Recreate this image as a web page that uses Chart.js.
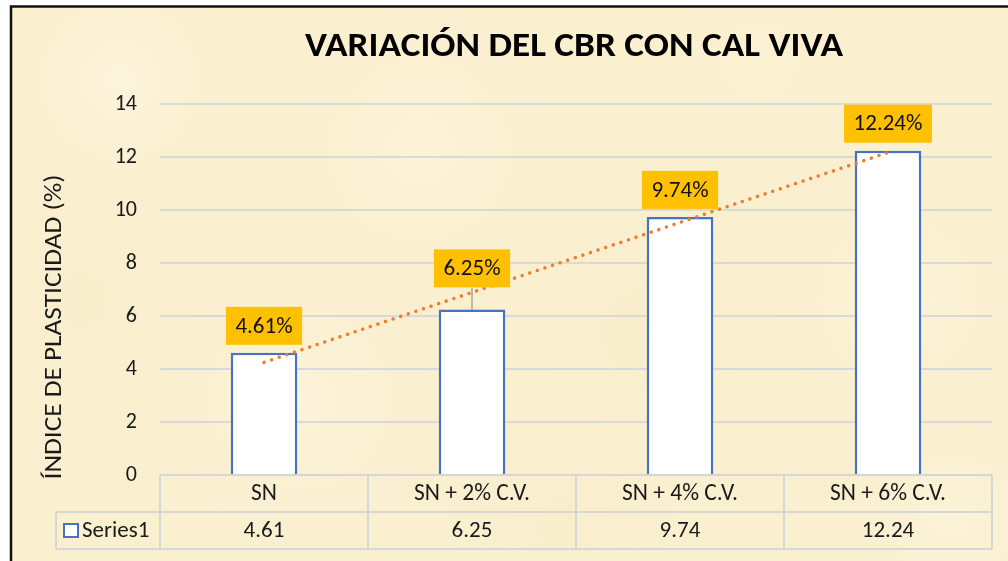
<!DOCTYPE html>
<html>
<head>
<meta charset="utf-8">
<script src="https://cdn.jsdelivr.net/npm/chart.js@4"></script>
<style>
  html, body { margin: 0; padding: 0; background: #ffffff; }
  canvas { display: block; }
</style>
</head>
<body>
<canvas id="c" width="1008" height="561"></canvas>
<script>
// ---- data ----
const categories = ['SN', 'SN + 2% C.V.', 'SN + 4% C.V.', 'SN + 6% C.V.'];
const values = [4.61, 6.25, 9.74, 12.24];
const valueLabels = ['4.61%', '6.25%', '9.74%', '12.24%'];
const tableValues = ['4.61', '6.25', '9.74', '12.24'];
const trendValues = [4.25, 6.89, 9.53, 12.17];
const seriesName = 'Series1';
const chartTitle = 'VARIACIÓN DEL CBR CON CAL VIVA';
const yAxisTitle = 'ÍNDICE DE PLASTICIDAD (%)';
const yMin = 0, yMax = 14, yStep = 2;

// ---- style ----
const FONT = 'Carlito, Calibri, Lato, "Open Sans", sans-serif';
const labelLift = [8, 22, 8, 8];

const bgPlugin = {
  id: 'bg',
  beforeDraw(chart) {
    const ctx = chart.ctx;
    ctx.save();
    ctx.fillStyle = '#ffffff';
    ctx.fillRect(0, 0, chart.width, chart.height);
    ctx.fillStyle = '#FAEFCF';
    ctx.fillRect(10, 6, chart.width - 10, chart.height - 6);
    const blotches = [
      [120, 80, 140, 'rgba(255,250,232,0.55)'],
      [420, 150, 180, 'rgba(255,249,230,0.45)'],
      [760, 60, 160, 'rgba(252,244,215,0.5)'],
      [300, 400, 170, 'rgba(255,250,233,0.45)'],
      [640, 330, 150, 'rgba(244,230,190,0.25)'],
      [900, 300, 160, 'rgba(255,249,228,0.45)'],
      [80, 300, 120, 'rgba(245,232,195,0.3)'],
      [560, 520, 140, 'rgba(246,233,196,0.3)'],
      [950, 520, 130, 'rgba(255,250,232,0.4)']
    ];
    blotches.forEach(([x, y, r, c]) => {
      const g = ctx.createRadialGradient(x, y, 0, x, y, r);
      g.addColorStop(0, c);
      g.addColorStop(1, 'rgba(250,239,207,0)');
      ctx.fillStyle = g;
      ctx.fillRect(10, 6, chart.width - 10, chart.height - 6);
    });
    ctx.strokeStyle = '#111111';
    ctx.lineWidth = 2.5;
    ctx.beginPath();
    ctx.moveTo(11, chart.height);
    ctx.lineTo(11, 6.5);
    ctx.lineTo(chart.width, 6.5);
    ctx.stroke();
    ctx.restore();
  }
};

const decoPlugin = {
  id: 'deco',
  afterDraw(chart) {
    const ctx = chart.ctx;
    const xs = chart.scales.x;
    const area = chart.chartArea;
    ctx.save();
    // title
    ctx.fillStyle = '#000000';
    ctx.font = 'bold 35px ' + FONT;
    ctx.textAlign = 'center';
    ctx.textBaseline = 'alphabetic';
    const tw = ctx.measureText(chartTitle).width;
    ctx.save();
    ctx.translate(574, 56);
    ctx.scale(538 / tw, 1);
    ctx.fillText(chartTitle, 0, 0);
    ctx.restore();
    // y axis title
    ctx.save();
    ctx.font = '25px ' + FONT;
    const yw = ctx.measureText(yAxisTitle).width;
    ctx.translate(55, 327);
    ctx.rotate(-Math.PI / 2);
    ctx.scale(305 / yw, 1);
    ctx.textAlign = 'center';
    ctx.textBaseline = 'middle';
    ctx.fillStyle = '#1a1a1a';
    ctx.fillText(yAxisTitle, 0, 0);
    ctx.restore();

    // data table
    const half = (xs.getPixelForValue(1) - xs.getPixelForValue(0)) / 2;
    const top = area.bottom;
    const mid = top + 37;
    const bot = top + 74;
    const tableLeft = 56;
    ctx.strokeStyle = '#D6D6D6';
    ctx.lineWidth = 2;
    ctx.beginPath();
    ctx.moveTo(area.left, top); ctx.lineTo(area.right, top);
    ctx.moveTo(tableLeft, mid); ctx.lineTo(area.right, mid);
    ctx.moveTo(tableLeft, bot); ctx.lineTo(area.right, bot);
    ctx.moveTo(tableLeft, mid); ctx.lineTo(tableLeft, bot);
    for (let i = 0; i < categories.length; i++) {
      const lx = xs.getPixelForValue(i) - half;
      ctx.moveTo(lx, top); ctx.lineTo(lx, bot);
    }
    const lastX = xs.getPixelForValue(categories.length - 1) + half;
    ctx.moveTo(lastX, top); ctx.lineTo(lastX, bot);
    ctx.stroke();

    ctx.fillStyle = '#1a1a1a';
    ctx.font = '23px ' + FONT;
    ctx.textAlign = 'center';
    ctx.textBaseline = 'middle';
    for (let i = 0; i < tableValues.length; i++) {
      ctx.fillText(tableValues[i], xs.getPixelForValue(i), (mid + bot) / 2 + 1);
    }
    // legend key
    ctx.fillStyle = '#ffffff';
    ctx.fillRect(64, 524, 14, 13);
    ctx.strokeStyle = '#4472C4';
    ctx.lineWidth = 2;
    ctx.strokeRect(64, 524, 14, 13);
    ctx.fillStyle = '#1a1a1a';
    ctx.textAlign = 'left';
    ctx.fillText(seriesName, 82, (mid + bot) / 2 + 1);

    // data labels (bar dataset)
    const meta = chart.getDatasetMeta(1);
    ctx.font = '23px ' + FONT;
    meta.data.forEach((el, i) => {
      const txt = valueLabels[i];
      const w = ctx.measureText(txt).width + 19;
      const h = 38;
      const bottomY = el.y - labelLift[i];
      if (labelLift[i] > 10) {
        ctx.strokeStyle = '#A6A6A6';
        ctx.lineWidth = 1.5;
        ctx.beginPath();
        ctx.moveTo(el.x, bottomY);
        ctx.lineTo(el.x, el.y);
        ctx.stroke();
      }
      ctx.fillStyle = '#FFC000';
      ctx.fillRect(el.x - w / 2, bottomY - h, w, h);
      ctx.fillStyle = '#111111';
      ctx.textAlign = 'center';
      ctx.textBaseline = 'middle';
      ctx.fillText(txt, el.x, bottomY - h / 2 + 1);
    });
    ctx.restore();
  }
};

new Chart(document.getElementById('c'), {
  data: {
    labels: categories,
    datasets: [
      {
        type: 'line',
        label: 'trend',
        data: trendValues,
        borderColor: '#ED7D31',
        borderWidth: 3.5,
        borderDash: [0.01, 8],
        borderCapStyle: 'round',
        pointRadius: 0,
        fill: false,
        order: 0
      },
      {
        type: 'bar',
        label: seriesName,
        data: values,
        backgroundColor: '#ffffff',
        borderColor: '#4472C4',
        borderWidth: 2.5,
        barPercentage: 0.32,
        categoryPercentage: 1,
        order: 1
      }
    ]
  },
  options: {
    responsive: false,
    devicePixelRatio: 1,
    animation: false,
    layout: { padding: { left: 10, top: 104, right: 16, bottom: 0 } },
    plugins: { legend: { display: false }, tooltip: { enabled: false }, title: { display: false } },
    scales: {
      x: {
        offset: true,
        grid: { display: false, drawTicks: false },
        border: { display: false },
        ticks: { font: { family: FONT, size: 23.5 }, color: '#1a1a1a', padding: 5, maxRotation: 0 },
        afterFit(scale) { scale.height = 86; }
      },
      y: {
        min: yMin, max: yMax,
        grid: { color: '#D9D9D9', lineWidth: 2, drawTicks: false },
        border: { display: false },
        ticks: { stepSize: yStep, font: { family: FONT, size: 22 }, color: '#1a1a1a', padding: 23 },
        afterFit(scale) { scale.width = 150; }
      }
    }
  },
  plugins: [bgPlugin, decoPlugin]
});
</script>
</body>
</html>
